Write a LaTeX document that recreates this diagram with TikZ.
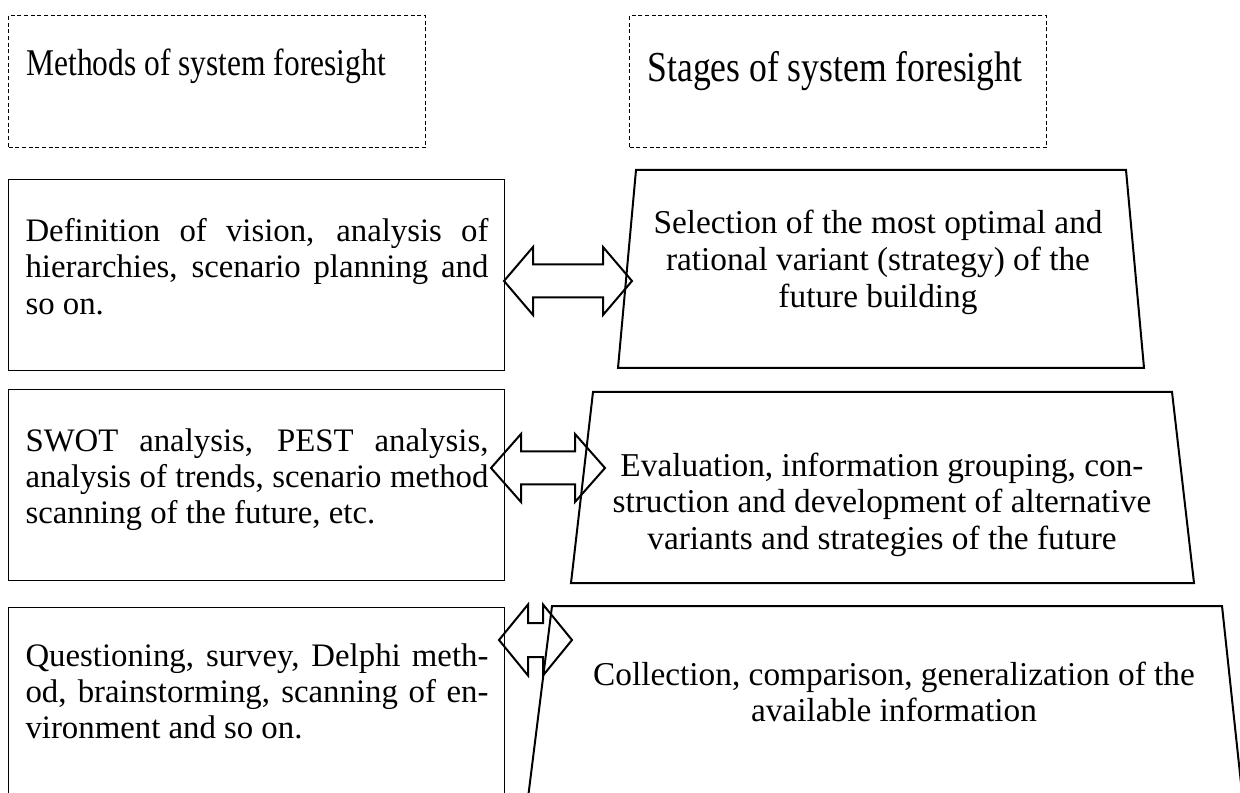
\documentclass[tikz,border=0pt]{standalone}
\usepackage{fontspec}
\setmainfont{Liberation Serif}
\usetikzlibrary{positioning}

% double block arrow: left tip x, right tip x, y, head length, head half, shaft half
\newcommand\twoway[6]{%
  \draw[arrowline] (#1,#3) -- (#1+#4,#3-#5) -- (#1+#4,#3-#6) -- (#2-#4,#3-#6)
    -- (#2-#4,#3-#5) -- (#2,#3) -- (#2-#4,#3+#5) -- (#2-#4,#3+#6)
    -- (#1+#4,#3+#6) -- (#1+#4,#3+#5) -- cycle;}

\tikzset{
  headbox/.style={draw, dash pattern=on 1.5pt off 1pt, line width=0.45pt,
    anchor=north west, inner sep=0pt, minimum width=156.4pt, minimum height=49.5pt},
  methodbox/.style={draw, line width=0.45pt, anchor=north west, inner sep=0pt,
    minimum width=186pt, minimum height=71.6pt},
  stageline/.style={line width=0.75pt, line join=miter},
  arrowline/.style={line width=0.75pt, line join=miter},
  headtext/.style={anchor=base west, inner sep=0pt, yscale=1.2, transform shape},
  methodtext/.style={anchor=north west, inner sep=0pt, text width=173.6pt,
    align=justify, font=\fontsize{12.3}{13.6}\selectfont},
  stagetext/.style={anchor=north, inner sep=0pt, align=center,
    font=\fontsize{12.5}{13.7}\selectfont},
}

\begin{document}
\begin{tikzpicture}[x=0.375pt, y=-0.375pt]
\clip (0,0) rectangle (1240,793);

% headings
\node[headbox] (mhead) at (8,15) {};
\node[headbox] (shead) at (629,15) {};
\node[headtext, font=\fontsize{11.8}{13}\selectfont] (mtitle) at (26,76) {Methods of system foresight};
\node[headtext, font=\fontsize{13.35}{15}\selectfont] (stitle) at (647,82) {Stages of system foresight};

% methods
\node[methodbox] (m3) at (8,179) {};
\node[methodbox] (m2) at (8,389) {};
\node[methodbox, minimum height=80pt] (m1) at (8,607) {};
\node[methodtext] (m3text) at (25,218) {Definition of vision, analysis of\linebreak
  hierarchies, scenario planning and\linebreak so on.};
\node[methodtext] (m2text) at (25,428) {SWOT analysis, PEST analysis,\linebreak
  analysis of trends, scenario method\linebreak scanning of the future, etc.};
\node[methodtext] (m1text) at (25,643) {Questioning, survey, Delphi meth-\linebreak
  od, brainstorming, scanning of en-\linebreak vironment and so on.};

% stages
\draw[stageline] (636,170) -- (1126,170) -- (1144,368) -- (618,368) -- cycle;
\draw[stageline] (593,392) -- (1172,392) -- (1194,583) -- (571,583) -- cycle;
\draw[stageline] (552,606) -- (1222,606) -- (1246,830) -- (524,830) -- cycle;
\node[stagetext] (s3text) at (878,210) {Selection of the most optimal and\\
  rational variant (strategy) of the\\ future building};
\node[stagetext] (s2text) at (882,452) {Evaluation, information grouping, con-\\
  struction and development of alternative\\ variants and strategies of the future};
\node[stagetext] (s1text) at (894,661) {Collection, comparison, generalization of the\\
  available information};

% links
\twoway{504}{632}{281}{29}{34}{16.5}
\twoway{491}{605}{468}{30}{34}{16.5}
\twoway{499}{572}{640}{29}{35.5}{17}
\end{tikzpicture}
\end{document}
